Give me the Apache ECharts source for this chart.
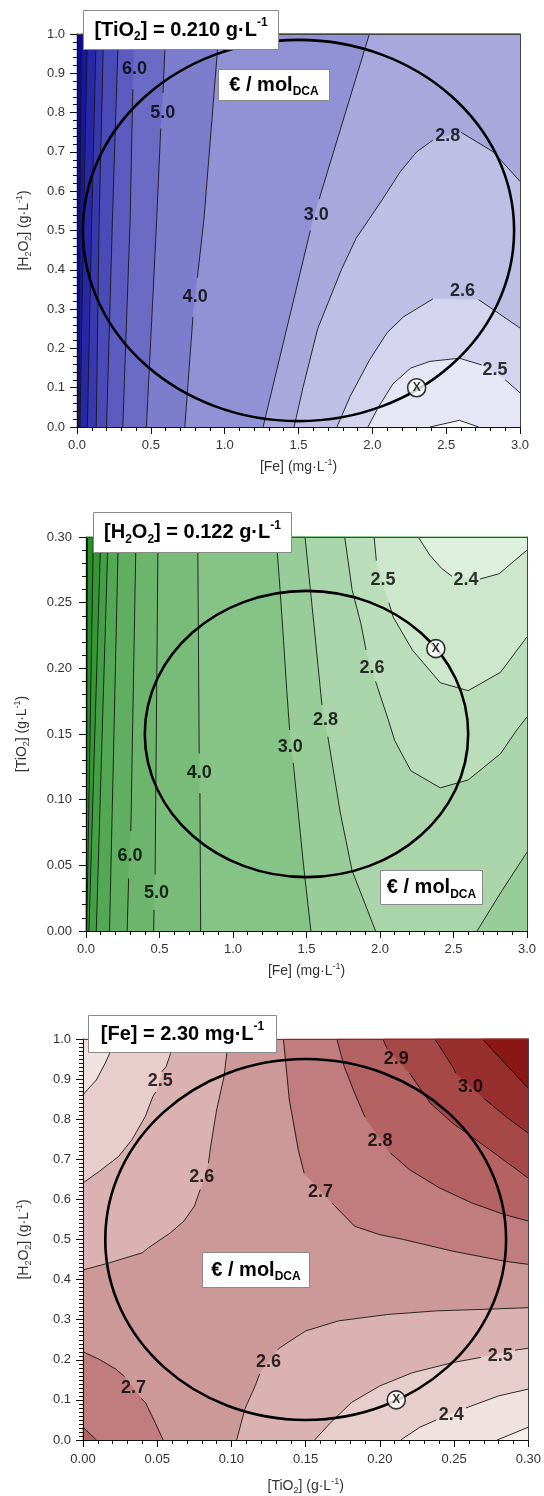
<!DOCTYPE html>
<html>
<head>
<meta charset="utf-8">
<script src="https://cdn.jsdelivr.net/npm/echarts@6/dist/echarts.min.js"></script>
<style>
  html, body { margin: 0; padding: 0; background: #fff; }
  #chart { width: 544px; height: 1496px; }
</style>
</head>
<body>
<div id="chart"></div>
<script>
const FONT = "'Liberation Sans', Arial, Helvetica, sans-serif";

// ---- plot 1: [TiO2] = 0.210 g/L  (x = [Fe], y = [H2O2]) ----
// null = gap in the line where a level label sits
const p1_c12 = [[0.01, 0], [0.02, 0.53], [0.03, 1]];
const p1_c10 = [[0.02, 0], [0.045, 0.53], [0.07, 1]];
const p1_c9 = [[0.07, 0], [0.10, 0.53], [0.13, 1]];
const p1_c8 = [[0.13, 0], [0.15, 0.53], [0.18, 1]];
const p1_c7 = [[0.20, 0], [0.24, 0.53], [0.28, 1]];
const p1_c6 = [[0.31, 0], [0.36, 0.53], [0.378, 0.86], null, [0.386, 0.96], [0.39, 1]];
const p1_c5 = [[0.47, 0], [0.54, 0.53], [0.567, 0.76], null, [0.582, 0.85], [0.60, 1]];
const p1_c4 = [[0.73, 0], [0.785, 0.28], null, [0.815, 0.38], [0.86, 0.53], [0.96, 1]];
const p1_c3 = [[1.26, 0], [1.58, 0.50], null, [1.64, 0.58], [1.98, 1]];
const p1_c28 = [[1.47, 0], [1.53, 0.10], [1.63, 0.25], [1.79, 0.40], [1.89, 0.48], [1.98, 0.53],
  [2.07, 0.58], [2.19, 0.65], [2.30, 0.70], [2.41, 0.73], null, [2.60, 0.75], [2.82, 0.70], [3.0, 0.625]];
const p1_c26 = [[1.76, 0], [1.85, 0.078], [1.98, 0.17], [2.10, 0.24], [2.21, 0.28], [2.41, 0.326],
  null, [2.72, 0.324], [3.0, 0.252]];
const p1_c25 = [[1.97, 0], [2.04, 0.05], [2.14, 0.11], [2.26, 0.15], [2.39, 0.167], [2.59, 0.175],
  [2.74, 0.158], null, [2.90, 0.12], [3.0, 0.087]];
const p1_c24 = [[2.39, 0], [2.59, 0.017], [2.72, 0]];
const p1_labels = [["6.0", 0.39, 0.91], ["5.0", 0.58, 0.80], ["4.0", 0.80, 0.33], ["3.0", 1.62, 0.54],
  ["2.8", 2.51, 0.74], ["2.6", 2.61, 0.345], ["2.5", 2.83, 0.146]];
const p1_ellipse = [1.50, 0.50, 1.46, 0.485];
const p1_point = [2.30, 0.10];

// ---- plot 2: [H2O2] = 0.122 g/L  (x = [Fe], y = [TiO2]) ----
const p2_c12 = [[0.002, 0], [0.01, 0.3]];
const p2_c10 = [[0.005, 0], [0.05, 0.3]];
const p2_c9 = [[0.02, 0], [0.10, 0.3]];
const p2_c8 = [[0.07, 0], [0.15, 0.3]];
const p2_c7 = [[0.16, 0], [0.22, 0.3]];
const p2_c6 = [[0.28, 0], [0.29, 0.04], null, [0.305, 0.076], [0.34, 0.3]];
const p2_c5 = [[0.46, 0], [0.463, 0.016], null, [0.47, 0.043], [0.49, 0.3]];
const p2_c4 = [[0.78, 0], [0.775, 0.105], null, [0.77, 0.135], [0.76, 0.3]];
const p2_c3 = [[1.53, 0], [1.48, 0.05], [1.435, 0.10], [1.41, 0.128], null, [1.385, 0.153],
  [1.366, 0.183], [1.344, 0.221], [1.32, 0.26], [1.294, 0.30]];
const p2_c28 = [[1.49, 0.30], [1.55, 0.234], [1.605, 0.172], null, [1.645, 0.148], [1.73, 0.09],
  [1.81, 0.046], [1.97, 0]];
const p2_c28b = [[2.66, 0], [2.82, 0.029], [3.0, 0.06]];
const p2_c26 = [[1.76, 0.30], [1.81, 0.26], [1.87, 0.234], [1.905, 0.214], null, [1.97, 0.19],
  [2.05, 0.163], [2.10, 0.145], [2.21, 0.122], [2.41, 0.109], [2.60, 0.115], [2.82, 0.135],
  [2.93, 0.153], [3.0, 0.163]];
const p2_c25 = [[1.96, 0.30], [1.975, 0.282], null, [2.06, 0.25], [2.09, 0.239], [2.22, 0.214],
  [2.41, 0.189], [2.60, 0.183], [2.82, 0.197], [3.0, 0.224]];
const p2_c24 = [[2.26, 0.30], [2.34, 0.286], [2.42, 0.276], [2.49, 0.27], null, [2.68, 0.268],
  [2.81, 0.272], [3.0, 0.29]];
const p2_labels = [["6.0", 0.30, 0.057], ["5.0", 0.48, 0.029], ["4.0", 0.77, 0.12], ["3.0", 1.39, 0.14],
  ["2.8", 1.63, 0.161], ["2.6", 1.945, 0.20], ["2.5", 2.02, 0.267], ["2.4", 2.585, 0.267]];
const p2_ellipse = [1.50, 0.150, 1.10, 0.109];
const p2_point = [2.38, 0.215];

// ---- plot 3: [Fe] = 2.30 mg/L  (x = [TiO2], y = [H2O2]) ----
const p3_c24a = [[0, 0.861], [0.009, 0.898], [0.015, 0.94], [0.020, 0.981], [0.021, 1.0]];
const p3_c25a = [[0, 0.641], [0.011, 0.67], [0.024, 0.707], [0.033, 0.749], [0.042, 0.807],
  [0.047, 0.856], [0.049, 0.868], null, [0.053, 0.918], [0.056, 0.931], [0.059, 0.964], [0.061, 1.0]];
const p3_c26a = [[0.098, 1.0], [0.095, 0.906], [0.090, 0.823], [0.086, 0.732], [0.0845, 0.69], null,
  [0.079, 0.625], [0.075, 0.583], [0.068, 0.546], [0.059, 0.517], [0.044, 0.479], [0.040, 0.467],
  [0.018, 0.442], [0, 0.424]];
const p3_c27a = [[0.135, 1.0], [0.139, 0.848], [0.145, 0.724], [0.149, 0.665], null, [0.168, 0.59],
  [0.183, 0.533], [0.20, 0.512], [0.216, 0.50], [0.249, 0.471], [0.284, 0.446], [0.30, 0.438]];
const p3_c28a = [[0.171, 1.0], [0.176, 0.931], [0.183, 0.865], [0.190, 0.805], null, [0.207, 0.716],
  [0.220, 0.674], [0.240, 0.629], [0.262, 0.591], [0.284, 0.562], [0.30, 0.546]];
const p3_c29 = [[0.202, 1.0], [0.205, 0.975], null, [0.220, 0.915], [0.234, 0.840], [0.249, 0.79],
  [0.271, 0.732], [0.30, 0.653]];
const p3_c30 = [[0.237, 1.0], [0.249, 0.931], [0.251, 0.915], null, [0.270, 0.852], [0.286, 0.803],
  [0.30, 0.765]];
const p3_c31 = [[0.269, 1.0], [0.284, 0.94], [0.30, 0.877]];
const p3_c27b = [[0, 0.22], [0.011, 0.201], [0.022, 0.177], [0.028, 0.158], null, [0.039, 0.104],
  [0.042, 0.094], [0.048, 0.048], [0.054, 0]];
const p3_c28b = [[0, 0.032], [0.009, 0]];
const p3_c26b = [[0.1035, 0], [0.109, 0.077], [0.116, 0.135], [0.119, 0.165], null, [0.131, 0.225],
  [0.133, 0.231], [0.150, 0.272], [0.172, 0.297], [0.205, 0.313], [0.238, 0.322], [0.271, 0.326], [0.30, 0.33]];
const p3_c25b = [[0.156, 0], [0.167, 0.044], [0.181, 0.094], [0.20, 0.135], [0.222, 0.168],
  [0.249, 0.193], [0.268, 0.206], null, [0.291, 0.224], [0.30, 0.229]];
const p3_c24b = [[0.214, 0], [0.227, 0.032], [0.238, 0.05], null, [0.258, 0.08], [0.28, 0.11], [0.30, 0.127]];
const p3_c23 = [[0.279, 0], [0.30, 0.032]];
const p3_labels = [["2.5", 0.052, 0.895], ["2.6", 0.080, 0.655], ["2.7", 0.160, 0.618], ["2.8", 0.200, 0.745],
  ["2.9", 0.211, 0.950], ["3.0", 0.261, 0.880], ["2.7", 0.034, 0.129], ["2.6", 0.125, 0.195],
  ["2.5", 0.281, 0.21], ["2.4", 0.248, 0.063]];
const p3_ellipse = [0.150, 0.50, 0.135, 0.45];
const p3_point = [0.211, 0.10];

// ---- band colours ----
const blue = {
  g12: "#0a0a8a", b10: "#1717a0", b9: "#2727a9", b8: "#3838b1", b7: "#4a4ab9", b6: "#5b5bc0",
  b5: "#6b6bc6", b4: "#7d7dcd", b3: "#9191d5", b28: "#a8a8dd", b26: "#bfbfe6", b25: "#d4d4ee",
  b24: "#e6e6f5", l24: "#f6f6fb"
};
const green = {
  g12: "#12831a", b10: "#268f26", b9: "#359835", b8: "#44a044", b7: "#53a853", b6: "#60ae60",
  b5: "#6db56d", b4: "#79bc79", b3: "#86c386", b28: "#98cc98", b26: "#aad5aa", b25: "#badeba",
  b24: "#cce7cc", l24: "#ddefdd"
};
const red = {
  g31: "#8a1616", b30: "#982f2f", b29: "#a64848", b28: "#b46262", b27: "#c17d7d", b26: "#cc9898",
  b25: "#dbb2b2", b24: "#e8cdcd", b23: "#f1e2e2", l23: "#f8eeee"
};

const rich = {
  sub: { fontSize: 9, lineHeight: 9, verticalAlign: "bottom", fontFamily: FONT, color: "#333" },
  sup: { fontSize: 9, lineHeight: 9, verticalAlign: "top", fontFamily: FONT, color: "#333" }
};
const boxRich = {
  sub: { fontSize: 12, lineHeight: 12, verticalAlign: "bottom", fontWeight: "bold", fontFamily: FONT, fill: "#000" },
  sup: { fontSize: 12, lineHeight: 12, verticalAlign: "top", fontWeight: "bold", fontFamily: FONT, fill: "#000" }
};

const R = (pts, close) => pts.concat(close || []);

const plots = [
  {
    grid: { left: 77, top: 34, width: 443, height: 393 },
    x: { min: 0, max: 3, interval: 0.5, minor: 5, digits: 1, name: "[Fe] (mg·L{sup|-1})", gap: 31, margin: 12 },
    y: { min: 0, max: 1, interval: 0.1, minor: 5, digits: 1, name: "[H{sub|2}O{sub|2}] (g·L{sup|-1})", gap: 44, margin: 12 },
    layers: [
      [[[0, 0], [0, 1], [3, 1], [3, 0]], blue.g12],
      [R(p1_c12, [[3, 1], [3, 0]]), blue.b10],
      [R(p1_c10, [[3, 1], [3, 0]]), blue.b9],
      [R(p1_c9, [[3, 1], [3, 0]]), blue.b8],
      [R(p1_c8, [[3, 1], [3, 0]]), blue.b7],
      [R(p1_c7, [[3, 1], [3, 0]]), blue.b6],
      [R(p1_c6, [[3, 1], [3, 0]]), blue.b5],
      [R(p1_c5, [[3, 1], [3, 0]]), blue.b4],
      [R(p1_c4, [[3, 1], [3, 0]]), blue.b3],
      [R(p1_c3, [[3, 1], [3, 0]]), blue.b28],
      [R(p1_c28, [[3, 0]]), blue.b26],
      [R(p1_c26, [[3, 0]]), blue.b25],
      [R(p1_c25, [[3, 0]]), blue.b24],
      [p1_c24, blue.l24]
    ],
    lines: [p1_c12, p1_c10, p1_c9, p1_c8, p1_c7, p1_c6, p1_c5, p1_c4, p1_c3, p1_c28, p1_c26, p1_c25, p1_c24],
    labels: p1_labels, ellipse: p1_ellipse, point: p1_point,
    title: { left: 83, top: 10, width: 195, height: 39, text: "[TiO{sub|2}] = 0.210 g·L{sup|-1}" },
    unit: { left: 218, top: 69, width: 111, height: 31 }
  },
  {
    grid: { left: 86, top: 537, width: 441, height: 394 },
    x: { min: 0, max: 3, interval: 0.5, minor: 5, digits: 1, name: "[Fe] (mg·L{sup|-1})", gap: 31, margin: 12 },
    y: { min: 0, max: 0.3, interval: 0.05, minor: 5, digits: 2, name: "[TiO{sub|2}] (g·L{sup|-1})", gap: 55, margin: 14 },
    layers: [
      [[[0, 0], [0, 0.3], [3, 0.3], [3, 0]], green.g12],
      [R(p2_c12, [[3, 0.3], [3, 0]]), green.b10],
      [R(p2_c10, [[3, 0.3], [3, 0]]), green.b9],
      [R(p2_c9, [[3, 0.3], [3, 0]]), green.b8],
      [R(p2_c8, [[3, 0.3], [3, 0]]), green.b7],
      [R(p2_c7, [[3, 0.3], [3, 0]]), green.b6],
      [R(p2_c6, [[3, 0.3], [3, 0]]), green.b5],
      [R(p2_c5, [[3, 0.3], [3, 0]]), green.b4],
      [R(p2_c4, [[3, 0.3], [3, 0]]), green.b3],
      [R(p2_c3, [[3, 0.3], [3, 0]]), green.b28],
      [R(p2_c28, p2_c28b.concat([[3, 0.3]])), green.b26],
      [R(p2_c26, [[3, 0.3]]), green.b25],
      [R(p2_c25, [[3, 0.3]]), green.b24],
      [R(p2_c24, [[3, 0.3]]), green.l24]
    ],
    lines: [p2_c12, p2_c10, p2_c9, p2_c8, p2_c7, p2_c6, p2_c5, p2_c4, p2_c3, p2_c28, p2_c28b, p2_c26, p2_c25, p2_c24],
    labels: p2_labels, ellipse: p2_ellipse, point: p2_point,
    title: { left: 93, top: 512, width: 198, height: 40, text: "[H{sub|2}O{sub|2}] = 0.122 g·L{sup|-1}" },
    unit: { left: 380, top: 870, width: 102, height: 34 }
  },
  {
    grid: { left: 83, top: 1039, width: 454, height: 402 },
    x: { min: 0, max: 0.3, interval: 0.05, minor: 5, digits: 2, name: "[TiO{sub|2}] (g·L{sup|-1})", gap: 37, margin: 13 },
    y: { min: 0, max: 1, interval: 0.1, minor: 10, digits: 1, name: "[H{sub|2}O{sub|2}] (g·L{sup|-1})", gap: 50, margin: 12 },
    layers: [
      [[[0, 0], [0, 1], [0.3, 1], [0.3, 0]], red.b26],
      [R(p3_c27a, [[0.3, 1]]), red.b27],
      [R(p3_c28a, [[0.3, 1]]), red.b28],
      [R(p3_c29, [[0.3, 1]]), red.b29],
      [R(p3_c30, [[0.3, 1]]), red.b30],
      [R(p3_c31, [[0.3, 1]]), red.g31],
      [R(p3_c27b, [[0, 0]]), red.b27],
      [R(p3_c28b, [[0, 0]]), red.b28],
      [R(p3_c26a, [[0, 1]]), red.b25],
      [R(p3_c25a, [[0, 1]]), red.b24],
      [R(p3_c24a, [[0, 1]]), red.b23],
      [R(p3_c26b, [[0.3, 0]]), red.b25],
      [R(p3_c25b, [[0.3, 0]]), red.b24],
      [R(p3_c24b, [[0.3, 0]]), red.b23],
      [R(p3_c23, [[0.3, 0]]), red.l23]
    ],
    lines: [p3_c24a, p3_c25a, p3_c26a, p3_c27a, p3_c28a, p3_c29, p3_c30, p3_c31, p3_c27b, p3_c28b,
      p3_c26b, p3_c25b, p3_c24b, p3_c23],
    labels: p3_labels, ellipse: p3_ellipse, point: p3_point,
    title: { left: 88, top: 1015, width: 188, height: 37, text: "[Fe] = 2.30 mg·L{sup|-1}" },
    unit: { left: 202, top: 1252, width: 107, height: 35 }
  }
];

function splitSegs(line) {
  const segs = [];
  let cur = [];
  line.forEach((p) => {
    if (p === null) {
      if (cur.length) segs.push(cur);
      cur = [];
    } else {
      cur.push(p);
    }
  });
  if (cur.length) segs.push(cur);
  return segs;
}

function valueAxis(gridIndex, a, position, isMain) {
  const base = {
    gridIndex, type: "value", min: a.min, max: a.max, interval: a.interval, position, z: 6,
    splitLine: { show: false },
    axisLine: { show: true, onZero: false, lineStyle: { color: isMain ? "#111" : "#444", width: 1 } }
  };
  if (!isMain) {
    return Object.assign(base, { axisTick: { show: false }, axisLabel: { show: false } });
  }
  return Object.assign(base, {
    name: a.name,
    nameLocation: "middle",
    nameGap: a.gap,
    nameTextStyle: { fontSize: 14, lineHeight: 18, color: "#333", fontFamily: FONT, rich },
    axisTick: { show: true, length: 7, lineStyle: { color: "#111" } },
    minorTick: { show: true, splitNumber: a.minor, length: 4, lineStyle: { color: "#111" } },
    axisLabel: {
      margin: a.margin, fontSize: 13, color: "#333", fontFamily: FONT,
      formatter: (v) => v.toFixed(a.digits)
    }
  });
}

// white annotation box with centred bold rich text
function textBox(b, text) {
  return {
    type: "group", left: b.left, top: b.top, z: 20,
    children: [
      {
        type: "rect", z: 20,
        shape: { x: 0, y: 0, width: b.width, height: b.height },
        style: { fill: "#fff", stroke: "#8a8a8a", lineWidth: 1 }
      },
      {
        type: "text", z: 21, x: b.width / 2, y: b.height / 2,
        style: {
          text, rich: boxRich, fontSize: 20, lineHeight: 26, fontWeight: "bold", fontFamily: FONT,
          fill: "#000", align: "center", verticalAlign: "middle",
          textAlign: "center", textVerticalAlign: "middle"
        }
      }
    ]
  };
}

const grids = [];
const xAxes = [];
const yAxes = [];
const series = [];
const graphics = [];

plots.forEach((P, k) => {
  grids.push(Object.assign({ containLabel: false }, P.grid));
  xAxes.push(valueAxis(k, P.x, "bottom", true), valueAxis(k, P.x, "top", false));
  const ya = valueAxis(k, P.y, "left", true);
  ya.nameRotate = 90;
  yAxes.push(ya, valueAxis(k, P.y, "right", false));
  const ax = { xAxisIndex: 2 * k, yAxisIndex: 2 * k };

  series.push(Object.assign({
    type: "custom", silent: true, z: 1,
    data: P.layers.map(() => [0, 0]),
    renderItem(params, api) {
      const [pts, color] = P.layers[params.dataIndex];
      return {
        type: "polygon",
        shape: { points: pts.filter((p) => p !== null).map((p) => api.coord(p)) },
        style: { fill: color, stroke: color, lineWidth: 0.5 }
      };
    }
  }, ax));

  const segs = P.lines.flatMap(splitSegs);
  series.push(Object.assign({
    type: "custom", silent: true, z: 2,
    data: segs.map(() => [0, 0]),
    renderItem(params, api) {
      return {
        type: "polyline",
        shape: { points: segs[params.dataIndex].map((p) => api.coord(p)) },
        style: { fill: "none", stroke: "#151515", lineWidth: 0.9 }
      };
    }
  }, ax));

  series.push(Object.assign({
    type: "custom", silent: true, z: 3,
    data: [P.ellipse],
    renderItem(params, api) {
      const c = api.coord([api.value(0), api.value(1)]);
      const s = api.size([api.value(2), api.value(3)]);
      return {
        type: "ellipse",
        shape: { cx: c[0], cy: c[1], rx: s[0], ry: s[1] },
        style: { fill: "none", stroke: "#000", lineWidth: 2.6 }
      };
    }
  }, ax));

  series.push(Object.assign({
    type: "scatter", silent: true, z: 4,
    symbolSize: 1,
    itemStyle: { color: "transparent" },
    label: {
      show: true, position: "inside", formatter: "{b}",
      fontSize: 18, fontWeight: "bold", color: "#000", fontFamily: FONT,
      textBorderWidth: 0
    },
    data: P.labels.map(([t, x, y]) => ({ name: t, value: [x, y] }))
  }, ax));

  series.push(Object.assign({
    type: "scatter", silent: true, z: 5,
    symbol: "circle", symbolSize: 18,
    itemStyle: { color: "#fff", borderColor: "#000", borderWidth: 1.6 },
    label: {
      show: true, position: "inside", formatter: "X",
      fontSize: 12, fontWeight: "bold", color: "#000", fontFamily: FONT, textBorderWidth: 0
    },
    data: [P.point]
  }, ax));

  graphics.push(textBox(P.title, P.title.text));
  graphics.push(textBox(P.unit, "€ / mol{sub|DCA}"));
});

const chart = echarts.init(document.getElementById("chart"), null, { renderer: "canvas" });
chart.setOption({
  animation: false,
  backgroundColor: "#fff",
  textStyle: { fontFamily: FONT },
  grid: grids,
  xAxis: xAxes,
  yAxis: yAxes,
  series,
  graphic: graphics
});
</script>
</body>
</html>
